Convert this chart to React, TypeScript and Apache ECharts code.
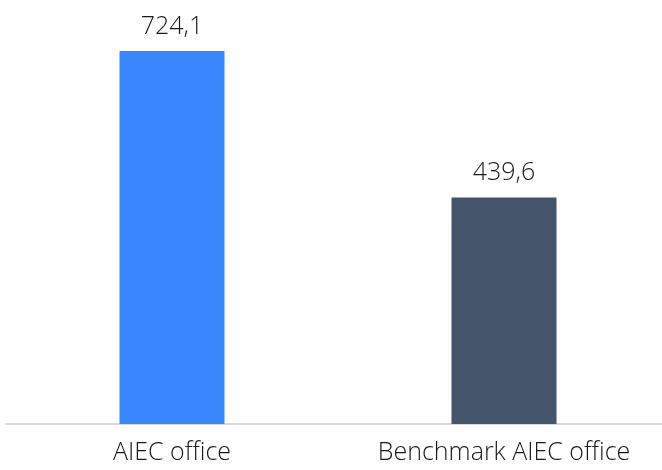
import React, { useEffect, useRef } from "react";
import * as echarts from "echarts";

const categories = ["AIEC office", "Benchmark AIEC office"];
const values = [724.1, 439.6];
const barColors = ["#3a86ff", "#44546a"];

export default function App() {
  const ref = useRef<HTMLDivElement>(null);
  useEffect(() => {
    const chart = echarts.init(ref.current!, null, { renderer: "svg" });
    const font = "'Open Sans', 'Noto Sans', sans-serif";
    chart.setOption({
      animation: false,
      grid: { left: 6, right: 0, top: 12, bottom: 46 },
      xAxis: {
        type: "category",
        data: categories,
        axisLine: { lineStyle: { color: "#d9d9d9", width: 2 } },
        axisTick: { show: false },
        axisLabel: {
          color: "#1a1a1a",
          fontSize: 25,
          lineHeight: 24,
          fontFamily: font,
          fontWeight: 300,
          margin: 14,
          interval: 0,
        },
      },
      yAxis: {
        type: "value",
        min: 0,
        max: 800,
        show: false,
        splitLine: { show: false },
      },
      series: [
        {
          type: "bar",
          barWidth: 105,
          data: values.map((v, i) => ({ value: v, itemStyle: { color: barColors[i] } })),
          label: {
            show: true,
            position: "top",
            distance: 15,
            color: "#1a1a1a",
            fontSize: 25,
            fontFamily: font,
            fontWeight: 300,
            formatter: (p: any) => p.value.toFixed(1).replace(".", ","),
          },
        },
      ],
    });
    return () => chart.dispose();
  }, []);
  return <div ref={ref} style={{ width: 670, height: 470, position: "fixed", left: 0, top: 0 }} />;
}
